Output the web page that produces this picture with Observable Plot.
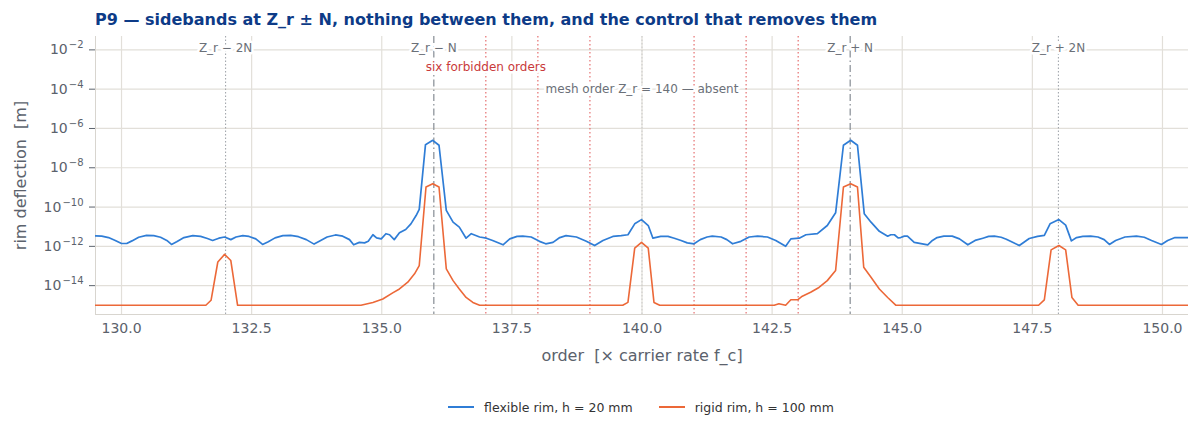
<!DOCTYPE html>
<html>
<head>
<meta charset="utf-8">
<script src="https://cdn.jsdelivr.net/npm/d3@7"></script>
<script src="https://cdn.jsdelivr.net/npm/@observablehq/plot@0.6"></script>
<style>
  html, body { margin: 0; padding: 0; background: #fff; }
  body { width: 1200px; height: 432px; font-family: "DejaVu Sans", sans-serif; overflow: hidden; }
  #title { height: 32px; box-sizing: border-box; padding: 10px 0 0 95px; font-weight: bold; font-size: 16px; line-height: 20px; color: #0d3b87; white-space: nowrap; }
  #legend { display: flex; justify-content: center; align-items: center; gap: 26px; height: 30px; font-size: 12.5px; color: #333; padding-left: 82px; }
  .item { display: flex; align-items: center; gap: 10px; }
  .sw { width: 26px; height: 0; border-top: 2.5px solid; }
</style>
</head>
<body>
<div id="title">P9 — sidebands at Z_r ± N, nothing between them, and the control that removes them</div>
<div id="chart"></div>
<div id="legend"></div>
<script>
// ---------- data ----------
const blueOrder = [129.5,129.62,129.75,129.88,130.0,130.1,130.2,130.33,130.48,130.62,130.75,130.87,130.96,131.06,131.2,131.37,131.52,131.65,131.75,131.87,131.98,132.1,132.2,132.33,132.45,132.58,132.71,132.82,132.95,133.1,133.25,133.4,133.55,133.7,133.8,133.95,134.11,134.25,134.38,134.46,134.57,134.67,134.74,134.83,134.9,134.99,135.08,135.15,135.24,135.34,135.46,135.56,135.66,135.72,135.84,135.98,136.1,136.24,136.37,136.49,136.62,136.72,136.88,137.01,137.13,137.33,137.46,137.6,137.71,137.87,138.03,138.15,138.29,138.42,138.54,138.74,138.93,139.09,139.25,139.44,139.6,139.73,139.86,139.99,140.12,140.21,140.36,140.5,140.62,140.75,140.87,141.0,141.12,141.25,141.35,141.52,141.63,141.74,141.9,142.06,142.22,142.41,142.57,142.76,142.86,143.02,143.15,143.37,143.56,143.72,143.87,144.01,144.14,144.27,144.4,144.56,144.72,144.78,144.85,144.92,144.97,145.04,145.1,145.23,145.49,145.58,145.67,145.8,145.96,146.1,146.26,146.4,146.55,146.66,146.77,146.9,147.0,147.12,147.25,147.44,147.6,147.73,147.84,148.01,148.14,148.25,148.35,148.47,148.62,148.76,148.88,148.98,149.1,149.28,149.5,149.65,149.79,149.98,150.1,150.24,150.5];
const blueDefl = [3.4e-12,3.3e-12,2.8e-12,2.0e-12,1.4e-12,1.4e-12,1.9e-12,2.9e-12,3.6e-12,3.5e-12,2.9e-12,2.0e-12,1.25e-12,1.7e-12,2.8e-12,3.5e-12,3.2e-12,2.5e-12,2.0e-12,2.6e-12,3.0e-12,2.2e-12,3.0e-12,3.5e-12,3.2e-12,2.4e-12,1.25e-12,1.7e-12,2.7e-12,3.5e-12,3.6e-12,3.1e-12,2.2e-12,1.3e-12,1.8e-12,3.0e-12,3.8e-12,3.3e-12,2.2e-12,1.2e-12,1.6e-12,1.5e-12,1.8e-12,3.9e-12,2.7e-12,2.4e-12,4.4e-12,3.9e-12,2.2e-12,4.9e-12,7.2e-12,1.4e-11,3.7e-11,7.6e-11,1.5e-7,2.5e-7,1.4e-7,6.8e-11,1.7e-11,9.5e-12,2.6e-12,4.4e-12,3.0e-12,2.6e-12,2.0e-12,1.2e-12,2.4e-12,3.2e-12,3.3e-12,3.0e-12,1.8e-12,1.35e-12,1.6e-12,2.8e-12,3.5e-12,3.0e-12,1.8e-12,1.1e-12,2.0e-12,3.2e-12,3.5e-12,3.9e-12,1.4e-11,2.3e-11,1.15e-11,2.6e-12,3.2e-12,3.2e-12,2.6e-12,2.0e-12,1.5e-12,1.35e-12,2.2e-12,3.0e-12,3.3e-12,3.0e-12,2.2e-12,1.35e-12,1.8e-12,3.0e-12,3.3e-12,3.0e-12,2.0e-12,1.0e-12,2.4e-12,2.6e-12,3.9e-12,4.4e-12,1.15e-11,5.1e-11,1.4e-7,2.5e-7,1.4e-7,4.6e-11,1.7e-11,5.8e-12,3.3e-12,3.9e-12,3.9e-12,2.7e-12,2.8e-12,3.3e-12,3.3e-12,1.6e-12,1.2e-12,2.0e-12,2.8e-12,3.3e-12,3.3e-12,2.4e-12,1.2e-12,2.0e-12,2.6e-12,3.2e-12,3.3e-12,2.9e-12,2.3e-12,1.6e-12,1.1e-12,2.5e-12,3.2e-12,3.6e-12,1.4e-11,2.3e-11,1.2e-11,1.9e-12,2.8e-12,3.2e-12,3.3e-12,3.0e-12,2.2e-12,1.25e-12,2.0e-12,3.0e-12,3.3e-12,2.9e-12,2.0e-12,1.25e-12,2.0e-12,2.8e-12,2.8e-12];

const orangeOrder = [129.5,131.62,131.72,131.85,131.98,132.1,132.23,134.6,134.83,135.02,135.21,135.34,135.5,135.63,135.72,135.85,135.98,136.1,136.24,136.37,136.49,136.62,136.75,136.88,139.63,139.73,139.86,139.99,140.12,140.23,140.34,142.54,142.63,142.76,142.86,142.99,143.08,143.24,143.4,143.56,143.72,143.87,144.01,144.14,144.26,144.4,144.56,144.72,144.88,147.62,147.73,147.86,148.01,148.14,148.26,148.38,150.5];
const orangeDefl = [1e-15,1e-15,1.8e-15,1.6e-13,3.9e-13,1.9e-13,1e-15,1e-15,1.4e-15,2.1e-15,4.3e-15,6.8e-15,1.5e-14,4.0e-14,1.05e-13,1.05e-9,1.55e-9,1.05e-9,7.1e-14,1.8e-14,6.8e-15,2.5e-15,1.4e-15,1e-15,1e-15,1.4e-15,8.1e-13,1.6e-12,8.1e-13,1.4e-15,1e-15,1e-15,1.2e-15,1e-15,1.9e-15,1.9e-15,2.9e-15,4.6e-15,8.1e-15,1.8e-14,5.9e-14,1.05e-9,1.55e-9,1.05e-9,8.7e-14,2.7e-14,6.8e-15,2.5e-15,1e-15,1e-15,1.9e-15,6.6e-13,1.1e-12,6.6e-13,2.5e-15,1e-15,1e-15];

const xTicks = [130, 132.5, 135, 137.5, 140, 142.5, 145, 147.5, 150];
const yTicks = [1e-14, 1e-12, 1e-10, 1e-8, 1e-6, 1e-4, 1e-2];

const sidebandN = [136, 144];
const sidebandNLabels = ["Z_r − N", "Z_r + N"];
const sideband2N = [132, 148];
const sideband2NLabels = ["Z_r − 2N", "Z_r + 2N"];
const forbiddenOrders = [137, 138, 139, 141, 142, 143];
const meshOrder = [140];

const seriesNames = ["flexible rim, h = 20 mm", "rigid rim, h = 100 mm"];
const seriesColors = ["#2f7dd6", "#ec6838"];

// ---------- build ----------
const blue = blueOrder.map((o, i) => ({order: o, defl: blueDefl[i]}));
const orange = orangeOrder.map((o, i) => ({order: o, defl: orangeDefl[i]}));
const topLabels = [
  ...sideband2N.map((o, i) => ({order: o, text: sideband2NLabels[i]})),
  ...sidebandN.map((o, i) => ({order: o, text: sidebandNLabels[i]}))
];

// tick label "10|−2"; the exponent is raised into a superscript after rendering
const fmtPow = d => "10|" + String(Math.round(Math.log10(d))).replace("-", "−");

const gridColor = "#e2dfd9";
const labelColor = "#5b626c";

const chart = Plot.plot({
  width: 1200,
  height: 360,
  marginTop: 4,
  marginBottom: 78,
  marginLeft: 95,
  marginRight: 12,
  style: {fontFamily: "DejaVu Sans, sans-serif", background: "white"},
  x: {domain: [129.5, 150.5]},
  y: {type: "log", domain: [3.4e-16, 4.8e-2]},
  marks: [
    Plot.gridX(xTicks, {stroke: gridColor, strokeOpacity: 1, strokeWidth: 1.2}),
    Plot.gridY(yTicks, {stroke: gridColor, strokeOpacity: 1, strokeWidth: 1.2}),
    Plot.ruleX([129.5], {stroke: "#d8d5cf"}),
    Plot.ruleY([3.4e-16], {stroke: "#d8d5cf"}),
    Plot.ruleX(meshOrder, {stroke: "#c9c9c9", strokeWidth: 1, strokeDasharray: "1.5,2"}),
    Plot.ruleX(forbiddenOrders, {stroke: "#e05252", strokeWidth: 1, strokeDasharray: "1.5,2.5"}),
    Plot.ruleX(sideband2N, {stroke: "#9a9fa6", strokeWidth: 1, strokeDasharray: "1.5,2"}),
    Plot.ruleX(sidebandN, {stroke: "#8f959c", strokeWidth: 1.3, strokeDasharray: "7,3,1.5,3"}),
    Plot.line(orange, {x: "order", y: "defl", stroke: seriesColors[1], strokeWidth: 1.6, clip: true}),
    Plot.line(blue, {x: "order", y: "defl", stroke: seriesColors[0], strokeWidth: 1.7, clip: true}),
    Plot.text(topLabels, {x: "order", y: () => 1.2e-2, text: "text", fill: "#6b7078", fontSize: 12, stroke: "white", strokeWidth: 5, paintOrder: "stroke"}),
    Plot.text(["six forbidden orders"], {x: () => 137, y: () => 1.25e-3, fill: "#c93a3a", fontSize: 12, stroke: "white", strokeWidth: 5, paintOrder: "stroke"}),
    Plot.text(["mesh order Z_r = 140 — absent"], {x: () => 140, y: () => 1e-4, fill: "#6b7078", fontSize: 12, stroke: "white", strokeWidth: 5, paintOrder: "stroke"}),
    Plot.axisX({ticks: xTicks, tickFormat: d => d.toFixed(1), tickSize: 0, tickPadding: 9, fontSize: 14, color: labelColor, label: null}),
    Plot.axisY({ticks: yTicks, tickFormat: fmtPow, tickSize: 6, tickPadding: 6, fontSize: 14, color: labelColor, label: null}),
    Plot.text(["rim deflection\u00a0 [m]"], {frameAnchor: "left", dx: -75, rotate: -90, textAnchor: "middle", fontSize: 16, fill: labelColor}),
    Plot.text(["order\u00a0 [× carrier rate f_c]"], {frameAnchor: "bottom", dy: 46, textAnchor: "middle", fontSize: 16, fill: labelColor})
  ]
});
document.getElementById("chart").appendChild(chart);

// turn "10|−2" into 10 with a raised exponent
chart.querySelectorAll("text").forEach(t => {
  const s = t.textContent;
  if (s.startsWith("10|")) {
    const exp = s.slice(3);
    t.textContent = "";
    const NS = "http://www.w3.org/2000/svg";
    const base = document.createElementNS(NS, "tspan");
    base.textContent = "10";
    base.setAttribute("font-size", "14");
    const sup = document.createElementNS(NS, "tspan");
    sup.textContent = exp;
    sup.setAttribute("font-size", "10");
    sup.setAttribute("dx", "1");
    sup.setAttribute("dy", "-6");
    t.appendChild(base);
    t.appendChild(sup);
  }
});

const legend = document.getElementById("legend");
seriesNames.forEach((name, i) => {
  const item = document.createElement("div");
  item.className = "item";
  const sw = document.createElement("span");
  sw.className = "sw";
  sw.style.borderColor = seriesColors[i];
  const t = document.createElement("span");
  t.textContent = name;
  item.appendChild(sw);
  item.appendChild(t);
  legend.appendChild(item);
});
</script>
</body>
</html>
